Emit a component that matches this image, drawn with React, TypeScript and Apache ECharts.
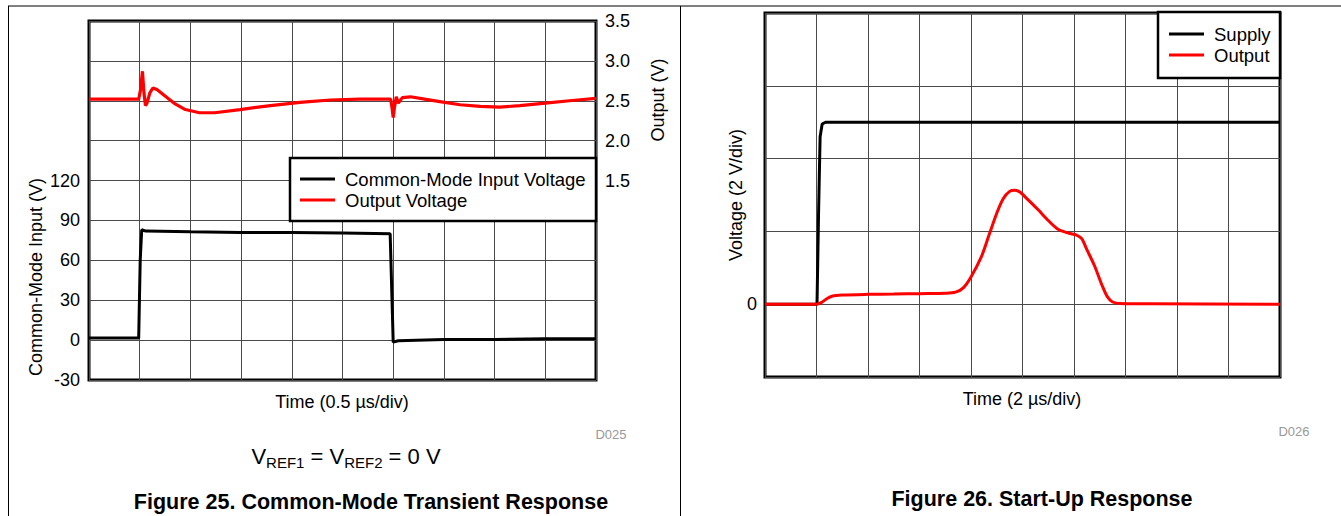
import React, { useEffect, useRef } from 'react';
import * as echarts from 'echarts';

// ---- Figure 25: Common-Mode Transient Response (time in µs) ----
const cmTime = [0, 0.49, 0.505, 0.52, 0.56, 1.0, 1.5, 2.0, 2.5, 2.97, 3.0, 3.05, 3.5, 4.0, 4.5, 5.0];
const cmInput = [1.5, 1.5, 60, 83, 82, 81.5, 81, 81, 80.5, 80, -1.5, -0.5, 0.5, 0.5, 1, 1];

const outTime = [0, 0.49, 0.51, 0.527, 0.542, 0.557, 0.572, 0.6, 0.63, 0.67, 0.75, 0.85, 0.95, 1.09, 1.24, 1.49, 1.79, 2.08, 2.38, 2.67, 2.975, 2.99, 3.0, 3.013, 3.03, 3.05, 3.09, 3.17, 3.31, 3.46, 3.66, 3.86, 4.05, 4.25, 4.5, 4.74, 5.0];
const outVolt = [2.52, 2.52, 2.65, 2.87, 2.6, 2.44, 2.47, 2.6, 2.66, 2.64, 2.56, 2.46, 2.39, 2.35, 2.35, 2.39, 2.44, 2.48, 2.51, 2.52, 2.52, 2.4, 2.29, 2.42, 2.55, 2.47, 2.54, 2.55, 2.52, 2.49, 2.45, 2.43, 2.42, 2.44, 2.47, 2.5, 2.53];

const leftYLabelsMax = 120;
const rightYLabelsMin = 1.5;

// ---- Figure 26: Start-Up Response (time in µs, volts) ----
const supTime = [0, 2.02, 2.08, 2.14, 2.22, 2.35, 20];
const supVolt = [0, 0, 2.5, 4.6, 4.95, 5.0, 5.0];

const opTime = [0, 2.0, 2.2, 2.4, 2.6, 3.0, 4.0, 5.0, 6.0, 7.0, 7.4, 7.7, 8.0, 8.4, 8.7, 9.0, 9.25, 9.5, 9.7, 9.9, 10.2, 10.6, 11.0, 11.4, 11.8, 12.1, 12.3, 12.5, 12.8, 13.1, 13.3, 13.5, 13.8, 15, 20];
const opVolt = [0, 0, 0.05, 0.15, 0.22, 0.25, 0.27, 0.28, 0.29, 0.3, 0.33, 0.45, 0.75, 1.3, 1.9, 2.5, 2.9, 3.1, 3.13, 3.08, 2.88, 2.6, 2.3, 2.05, 1.95, 1.9, 1.8, 1.5, 1.05, 0.5, 0.2, 0.06, 0.02, 0.01, 0];

const FONT = "'Liberation Sans', Arial, Helvetica, sans-serif";

const zip = (a: number[], b: number[]) => a.map((v, i) => [v, b[i]]);

export default function App() {
  const ref = useRef<HTMLDivElement>(null);
  useEffect(() => {
    if (!ref.current) return;
    const chart = echarts.init(ref.current, undefined, { renderer: 'svg' });
    const grid = '#4a4a4a';
    const axisLabel = { fontSize: 18, color: '#000', fontFamily: FONT };
    const splitLine = { show: true, lineStyle: { color: grid, width: 1 } };
    const txt = (text: string, x: number, y: number, extra: any = {}, rot = 0) => ({
      type: 'text', x, y, rotation: rot, z: 30,
      style: { text, fontSize: 18, fontFamily: FONT, fill: '#000', align: 'center', verticalAlign: 'middle', ...extra },
    });
    chart.setOption({
      animation: false,
      backgroundColor: '#fff',
      grid: [
        { left: 89, top: 21, width: 507, height: 359, show: true, borderColor: '#000', borderWidth: 3, containLabel: false },
        { left: 765, top: 13, width: 515, height: 364, show: true, borderColor: '#000', borderWidth: 3, containLabel: false },
      ],
      xAxis: [
        { gridIndex: 0, type: 'value', min: 0, max: 5, interval: 0.5, axisLabel: { show: false }, axisTick: { show: false }, axisLine: { show: false }, splitLine },
        { gridIndex: 1, type: 'value', min: 0, max: 20, interval: 2, axisLabel: { show: false }, axisTick: { show: false }, axisLine: { show: false }, splitLine },
      ],
      yAxis: [
        {
          gridIndex: 0, type: 'value', position: 'left', min: -30, max: 240, interval: 30,
          axisLine: { show: false }, axisTick: { show: false }, splitLine,
          axisLabel: { ...axisLabel, margin: 9, showMinLabel: true, formatter: (v: number) => (v <= leftYLabelsMax ? String(v) : '') },
        },
        {
          gridIndex: 0, type: 'value', position: 'right', min: -1, max: 3.5, interval: 0.5,
          axisLine: { show: false }, axisTick: { show: false }, splitLine: { show: false },
          axisLabel: { ...axisLabel, margin: 9, showMaxLabel: true, formatter: (v: number) => (v >= rightYLabelsMin - 1e-9 ? v.toFixed(1) : '') },
        },
        {
          gridIndex: 1, type: 'value', position: 'left', min: -2, max: 8, interval: 2,
          axisLine: { show: false }, axisTick: { show: false }, splitLine,
          axisLabel: { ...axisLabel, margin: 8, formatter: (v: number) => (v === 0 ? '0' : '') },
        },
      ],
      legend: [
        {
          orient: 'vertical', left: 300, top: 168.5, padding: 0, itemGap: 0, itemWidth: 35, itemHeight: 3, z: 20,
          textStyle: { fontSize: 18.5, color: '#000', fontFamily: FONT, lineHeight: 21, padding: [0, 0, 0, 5] },
          data: [{ name: 'Common-Mode Input Voltage', icon: 'rect' }, { name: 'Output Voltage', icon: 'rect' }],
          selectedMode: false,
        },
        {
          orient: 'vertical', left: 1169, top: 23.5, padding: 0, itemGap: 0, itemWidth: 35, itemHeight: 3, z: 20,
          textStyle: { fontSize: 18.5, color: '#000', fontFamily: FONT, lineHeight: 21, padding: [0, 0, 0, 5] },
          data: [{ name: 'Supply', icon: 'rect' }, { name: 'Output', icon: 'rect' }],
          selectedMode: false,
        },
      ],
      series: [
        {
          name: 'Common-Mode Input Voltage', type: 'line', xAxisIndex: 0, yAxisIndex: 0, data: zip(cmTime, cmInput),
          symbol: 'none', lineStyle: { color: '#000', width: 3 }, itemStyle: { color: '#000' }, z: 3,
        },
        {
          name: 'Output Voltage', type: 'line', xAxisIndex: 0, yAxisIndex: 1, data: zip(outTime, outVolt),
          symbol: 'none', lineStyle: { color: '#ff0000', width: 3.2 }, itemStyle: { color: '#ff0000' }, z: 4,
        },
        {
          name: 'Supply', type: 'line', xAxisIndex: 1, yAxisIndex: 2, data: zip(supTime, supVolt),
          symbol: 'none', lineStyle: { color: '#000', width: 3 }, itemStyle: { color: '#000' }, z: 3,
        },
        {
          name: 'Output', type: 'line', xAxisIndex: 1, yAxisIndex: 2, data: zip(opTime, opVolt), smooth: 0.3,
          symbol: 'none', lineStyle: { color: '#ff0000', width: 3 }, itemStyle: { color: '#ff0000' }, z: 4,
        },
      ],
      graphic: [
        { type: 'line', z: 30, shape: { x1: 8, y1: 6, x2: 1341, y2: 6 }, style: { stroke: '#000', lineWidth: 1 } },
        { type: 'line', z: 30, shape: { x1: 8.5, y1: 6, x2: 8.5, y2: 516 }, style: { stroke: '#000', lineWidth: 1 } },
        { type: 'line', z: 30, shape: { x1: 680.5, y1: 6, x2: 680.5, y2: 516 }, style: { stroke: '#000', lineWidth: 1 } },
        { type: 'rect', z: 10, shape: { x: 290, y: 158, width: 306, height: 63 }, style: { fill: '#fff', stroke: '#000', lineWidth: 2.5 } },
        { type: 'rect', z: 10, shape: { x: 1158, y: 12, width: 122, height: 66 }, style: { fill: '#fff', stroke: '#000', lineWidth: 2.5 } },
        txt('Common-Mode Input (V)', 36, 277, {}, Math.PI / 2),
        txt('Output (V)', 658, 100, {}, Math.PI / 2),
        txt('Time (0.5 µs/div)', 342, 402),
        txt('D025', 611, 434, { fontSize: 13, fill: '#999' }),
        {
          type: 'text', x: 346, y: 456, z: 30,
          style: {
            text: '{m|V}{s|REF1}{m| = V}{s|REF2}{m| = 0 V}',
            align: 'center', verticalAlign: 'middle', fill: '#000', fontFamily: FONT,
            rich: {
              m: { fontSize: 22, lineHeight: 22, verticalAlign: 'top', fontFamily: FONT, fill: '#000' },
              s: { fontSize: 15, lineHeight: 15, padding: [10, 0, 0, 0], verticalAlign: 'top', fontFamily: FONT, fill: '#000' },
            },
          },
        },
        txt('Figure 25. Common-Mode Transient Response', 371, 502, { fontSize: 21.5, fontWeight: 'bold' }),
        txt('Voltage (2 V/div)', 736, 195, {}, Math.PI / 2),
        txt('Time (2 µs/div)', 1022, 399),
        txt('D026', 1294, 431, { fontSize: 13, fill: '#999' }),
        txt('Figure 26. Start-Up Response', 1042, 499, { fontSize: 21.5, fontWeight: 'bold' }),
      ],
    });
    return () => chart.dispose();
  }, []);
  return <div ref={ref} style={{ position: 'absolute', left: 0, top: 0, width: 1341, height: 516 }} />;
}
